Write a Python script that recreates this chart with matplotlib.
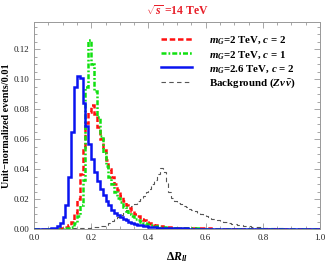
import numpy as np
import matplotlib
matplotlib.use("Agg")
import matplotlib.pyplot as plt
from matplotlib.ticker import MultipleLocator

plt.rcParams['font.family'] = ['Liberation Serif', 'DejaVu Serif']
plt.rcParams['mathtext.fontset'] = 'custom'
plt.rcParams['mathtext.rm'] = 'Liberation Serif:bold'
plt.rcParams['mathtext.it'] = 'Liberation Serif:italic:bold'
plt.rcParams['mathtext.bf'] = 'Liberation Serif:bold'

# histogram binning (events / 0.01)
bin_edges = np.round(np.linspace(0.0, 1.0, 101), 2)

# m_G = 2 TeV, c = 2 (red)
red_vals = [
    0.0001, 0.0001, 0.0001, 0.0001, 0.0001, 0.0001, 0.0001, 0.0001, 0.0002, 0.0004,
    0.0007, 0.0012, 0.0025, 0.005, 0.011, 0.020, 0.037, 0.055, 0.071, 0.078,
    0.083, 0.077, 0.068, 0.060, 0.053, 0.046, 0.040, 0.035, 0.030, 0.026,
    0.022, 0.019, 0.016, 0.014, 0.012, 0.010, 0.0085, 0.0070, 0.0058, 0.0047,
    0.0038, 0.0031, 0.0026, 0.0022, 0.0018, 0.0015, 0.0013, 0.0011, 0.0010, 0.0009,
    0.0008, 0.0007, 0.0007, 0.0006, 0.0006, 0.0005, 0.0005, 0.0005, 0.0004, 0.0004,
    0.0004, 0.0004, 0.0003, 0.0003, 0.0003, 0.0003, 0.0003, 0.0003, 0.0003, 0.0002,
    0.0002, 0.0002, 0.0002, 0.0002, 0.0002, 0.0002, 0.0002, 0.0002, 0.0002, 0.0002,
    0.0002, 0.0002, 0.0001, 0.0001, 0.0001, 0.0001, 0.0001, 0.0001, 0.0001, 0.0001,
    0.0001, 0.0001, 0.0001, 0.0001, 0.0001, 0.0001, 0.0001, 0.0001, 0.0001, 0.0001,
]

# m_G = 2 TeV, c = 1 (green)
green_vals = [
    0.0001, 0.0001, 0.0001, 0.0001, 0.0001, 0.0001, 0.0001, 0.0001, 0.0001, 0.0001,
    0.0002, 0.0004, 0.0008, 0.0015, 0.004, 0.009, 0.016, 0.033, 0.095, 0.126,
    0.110, 0.092, 0.075, 0.062, 0.051, 0.042, 0.035, 0.030, 0.025, 0.021,
    0.018, 0.015, 0.012, 0.010, 0.0085, 0.0070, 0.0060, 0.0050, 0.0042, 0.0035,
    0.0029, 0.0024, 0.0020, 0.0017, 0.0014, 0.0012, 0.0010, 0.0009, 0.0008, 0.0007,
    0.0006, 0.0006, 0.0005, 0.0005, 0.0005, 0.0004, 0.0004, 0.0004, 0.0003, 0.0003,
    0.0003, 0.0003, 0.0003, 0.0003, 0.0002, 0.0002, 0.0002, 0.0002, 0.0002, 0.0002,
    0.0002, 0.0002, 0.0002, 0.0002, 0.0002, 0.0001, 0.0001, 0.0001, 0.0001, 0.0001,
    0.0001, 0.0001, 0.0001, 0.0001, 0.0001, 0.0001, 0.0001, 0.0001, 0.0001, 0.0001,
    0.0001, 0.0001, 0.0001, 0.0001, 0.0001, 0.0001, 0.0001, 0.0001, 0.0001, 0.0001,
]

# m_G = 2.6 TeV, c = 2 (blue)
blue_vals = [
    0.0002, 0.0002, 0.0002, 0.0002, 0.0003, 0.0003, 0.0005, 0.001, 0.002, 0.004,
    0.008, 0.016, 0.035, 0.065, 0.095, 0.102, 0.101, 0.084, 0.069, 0.057,
    0.047, 0.038, 0.032, 0.027, 0.023, 0.019, 0.016, 0.013, 0.011, 0.0095,
    0.0080, 0.0068, 0.0058, 0.0049, 0.0041, 0.0035, 0.0030, 0.0025, 0.0021, 0.0018,
    0.0015, 0.0013, 0.0011, 0.0010, 0.0009, 0.0008, 0.0007, 0.0006, 0.0006, 0.0005,
    0.0005, 0.0004, 0.0004, 0.0004, 0.0003, 0.0003, 0.0003, 0.0003, 0.0003, 0.0002,
    0.0002, 0.0002, 0.0002, 0.0002, 0.0002, 0.0002, 0.0002, 0.0002, 0.0001, 0.0001,
    0.0001, 0.0001, 0.0001, 0.0001, 0.0001, 0.0001, 0.0001, 0.0001, 0.0001, 0.0001,
    0.0001, 0.0001, 0.0001, 0.0001, 0.0001, 0.0001, 0.0001, 0.0001, 0.0001, 0.0001,
    0.0001, 0.0001, 0.0001, 0.0001, 0.0001, 0.0001, 0.0001, 0.0001, 0.0001, 0.0001,
]

# Background (Z nu nubar) (gray)
bkg_vals = [
    0.0, 0.0, 0.0, 0.0, 0.0, 0.0, 0.0, 0.0, 0.0001, 0.0001,
    0.0002, 0.0003, 0.0003, 0.0004, 0.0005, 0.0006, 0.0007, 0.0008, 0.0009, 0.0010,
    0.0012, 0.0014, 0.0016, 0.0018, 0.0020, 0.0030, 0.0040, 0.0055, 0.0070, 0.0082,
    0.0095, 0.0110, 0.0125, 0.0140, 0.0155, 0.0170, 0.0185, 0.0200, 0.0220, 0.0245,
    0.0270, 0.0300, 0.0330, 0.0370, 0.0410, 0.0380, 0.0310, 0.0250, 0.0210, 0.0190,
    0.0175, 0.0165, 0.0155, 0.0145, 0.0135, 0.0125, 0.0117, 0.0108, 0.0100, 0.0092,
    0.0084, 0.0077, 0.0070, 0.0064, 0.0058, 0.0053, 0.0048, 0.0044, 0.0040, 0.0036,
    0.0032, 0.0029, 0.0026, 0.0023, 0.0020, 0.0018, 0.0016, 0.0014, 0.0012, 0.0011,
    0.0010, 0.0009, 0.0008, 0.0007, 0.0006, 0.0005, 0.0004, 0.0004, 0.0003, 0.0003,
    0.0002, 0.0002, 0.0002, 0.0002, 0.0001, 0.0001, 0.0001, 0.0001, 0.0001, 0.0001,
]

labels = [r'$m_G$=2 TeV, $c$ = 2', r'$m_G$=2 TeV, $c$ = 1',
          r'$m_G$=2.6 TeV, $c$ = 2', r'Background ($Z\nu\,\bar{\nu}$)']

fig = plt.figure(figsize=(3.25, 2.65), dpi=100)
ax = fig.add_axes([34/325, 1-229/265, 286/325, 207/265])

ax.stairs(bkg_vals, bin_edges, color='#555555', lw=0.8, ls=(0, (4, 3)), label=labels[3], zorder=2)
ax.stairs(red_vals, bin_edges, color='#ff1010', lw=1.8, ls=(0, (2.2, 1.1)), label=labels[0], zorder=3)
ax.stairs(green_vals, bin_edges, color='#10e010', lw=1.8, ls=(0, (2.0, 0.8, 0.7, 0.8)), label=labels[1], zorder=4)
ax.stairs(blue_vals, bin_edges, color='#0a14f0', lw=1.8, ls='-', label=labels[2], zorder=5)

ax.set_xlim(0, 1.0)
ax.set_ylim(0, 0.138)
ax.xaxis.set_major_locator(MultipleLocator(0.2))
ax.xaxis.set_minor_locator(MultipleLocator(0.05))
ax.yaxis.set_major_locator(MultipleLocator(0.02))
ax.yaxis.set_minor_locator(MultipleLocator(0.005))
ax.xaxis.set_major_formatter(plt.FuncFormatter(lambda v, p: f'{v:.1f}'))
ax.yaxis.set_major_formatter(plt.FuncFormatter(lambda v, p: f'{v:.2f}'))
ax.tick_params(which='both', direction='in', top=True, right=True, colors='#999999',
               labelcolor='#222222', labelsize=6.5, width=0.6)
ax.tick_params(which='major', length=4)
ax.tick_params(which='minor', length=2)
for s in ax.spines.values():
    s.set_color('#999999')
    s.set_linewidth(0.7)

ax.set_xlabel(r'$\Delta R_{ll}$', fontsize=8.5, labelpad=6)
ax.set_ylabel('Unit\u2212normalized events/0.01', fontsize=7.3, fontweight='bold', labelpad=2)
fig.text(177/325, 1-11/265, r'$\sqrt{s}$ =14 TeV', color='#e8202a', fontsize=8.5,
         fontweight='bold', ha='center', va='center')

h, l = ax.get_legend_handles_labels()
order = [1, 2, 3, 0]
leg = ax.legend([h[i] for i in order], [l[i] for i in order], loc='upper left',
                bbox_to_anchor=(0.445, 0.94), frameon=False, fontsize=7.8,
                handlelength=2.8, handletextpad=1.6, labelspacing=0.2,
                borderpad=0, borderaxespad=0)
for t in leg.get_texts():
    t.set_fontweight('bold')

fig.savefig('out.png', dpi=100)
